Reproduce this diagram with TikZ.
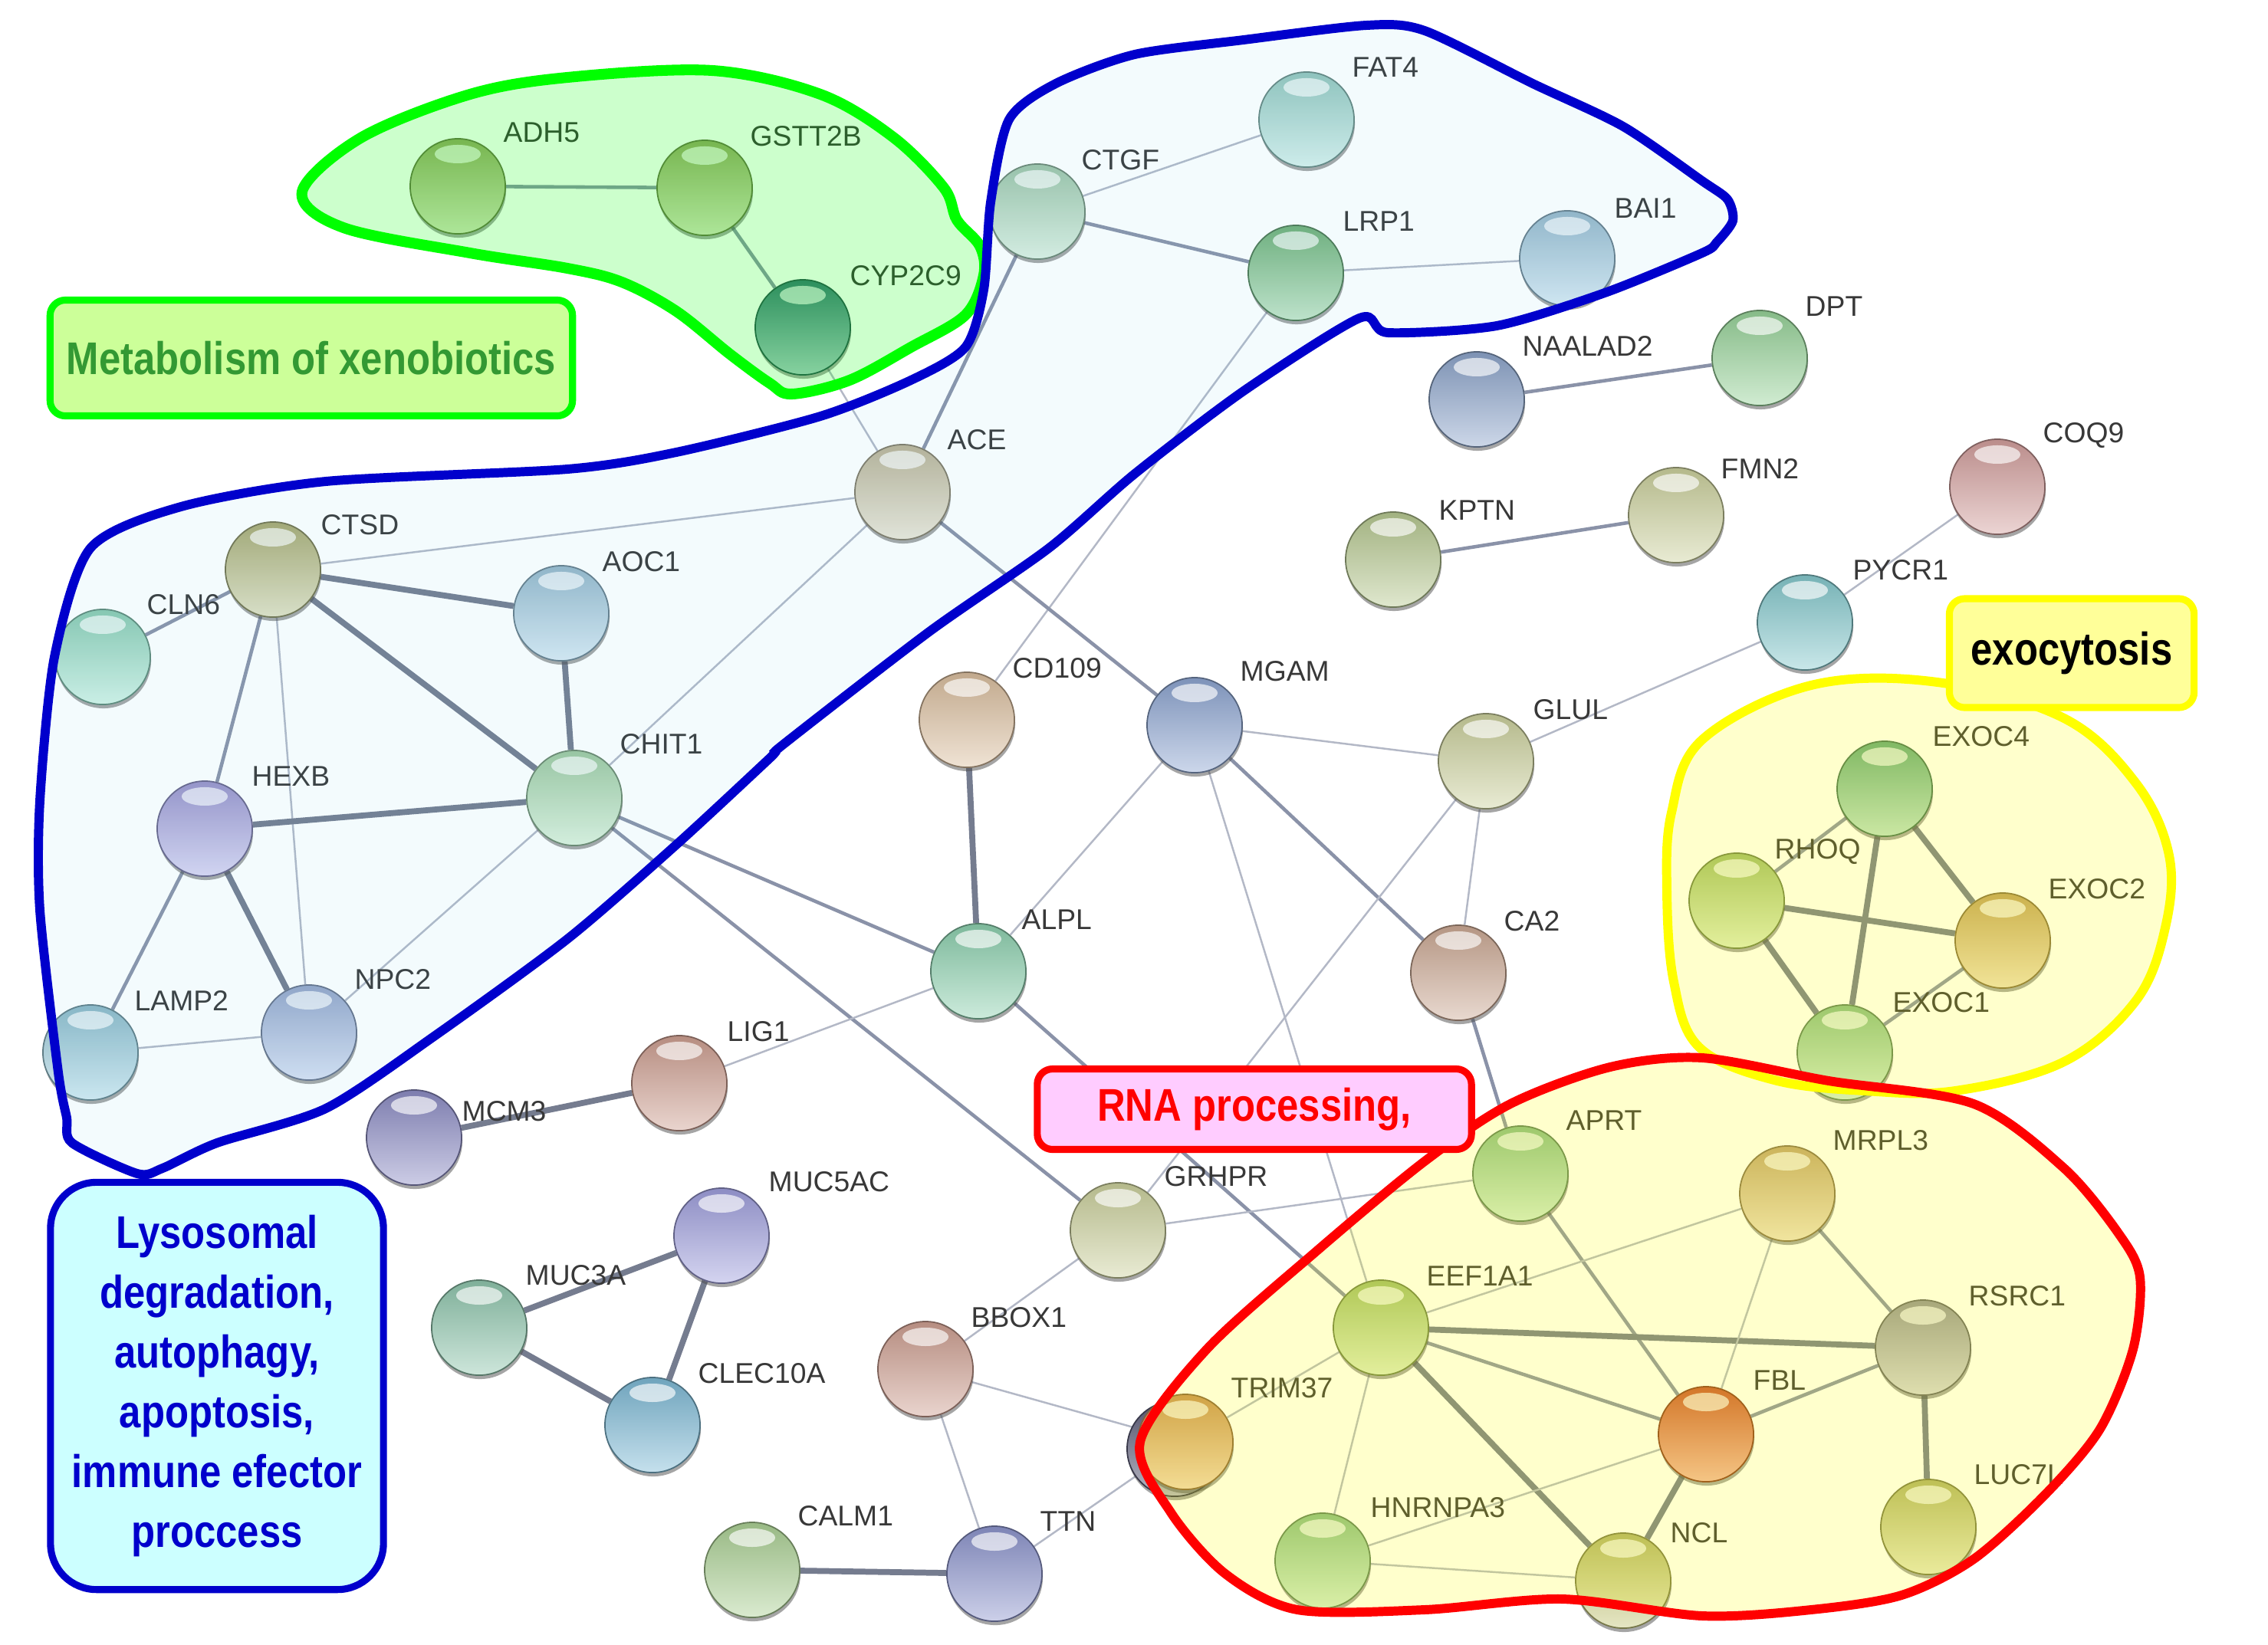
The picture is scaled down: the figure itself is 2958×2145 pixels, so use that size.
\documentclass[tikz,border=0pt]{standalone}
\usepackage{fontspec}
\setmainfont{Liberation Sans}
\newfontfamily\tagfont[FakeStretch=0.85]{Liberation Sans}
\usetikzlibrary{shadows, calc}
\definecolor{edgeline}{HTML}{8A92A8}
\definecolor{labelgray}{HTML}{383838}
\definecolor{cOlive}{HTML}{AABA72}
\definecolor{cTeal}{HTML}{3F8384}
\definecolor{cPale}{HTML}{B2DCBC}
\definecolor{cAqua}{HTML}{A6DDD3}
\definecolor{cGreen}{HTML}{7FC586}
\definecolor{cSky}{HTML}{A9CDE2}
\definecolor{cSteel}{HTML}{8EA6CC}
\definecolor{cLeaf}{HTML}{98D49A}
\definecolor{cSage}{HTML}{B8CA92}
\definecolor{cCream}{HTML}{CDD29E}
\definecolor{cRose}{HTML}{D4A09E}
\definecolor{cCyan}{HTML}{86CACE}
\definecolor{cBeige}{HTML}{D3C8A8}
\definecolor{cKhaki}{HTML}{BEBD7E}
\definecolor{cMint}{HTML}{9CE2C6}
\definecolor{cLav}{HTML}{AEA4E2}
\definecolor{cLight}{HTML}{B2E0B2}
\definecolor{cIce}{HTML}{9ECEDE}
\definecolor{cPeri}{HTML}{A8BAE2}
\definecolor{cTan}{HTML}{DCC0A0}
\definecolor{cCorn}{HTML}{8EA6D2}
\definecolor{cSea}{HTML}{8ED2B0}
\definecolor{cClay}{HTML}{CDAA95}
\definecolor{cBrick}{HTML}{CFA092}
\definecolor{cSlate}{HTML}{8E8EC6}
\definecolor{cViolet}{HTML}{A0A0DE}
\definecolor{cJade}{HTML}{90C7AE}
\definecolor{cCeru}{HTML}{7EBAD6}
\definecolor{cFern}{HTML}{ADD296}
\definecolor{cIndigo}{HTML}{8E96CE}
\definecolor{cEmerald}{HTML}{6FBE8E}
\definecolor{cLime}{HTML}{B2D47C}
\definecolor{cGold}{HTML}{D9B46E}
\definecolor{cSand}{HTML}{D9B882}
\definecolor{cSilver}{HTML}{A6A6AE}
\definecolor{cApricot}{HTML}{E0A064}
\definecolor{cOrange}{HTML}{E4603A}
\definecolor{cMustard}{HTML}{C6C87A}
\definecolor{cDusk}{HTML}{5E5E7A}
\definecolor{xenoline}{HTML}{00FF00}
\definecolor{xenofill}{HTML}{CCFF99}
\definecolor{xenotext}{HTML}{339933}
\definecolor{lysoline}{HTML}{0000CC}
\definecolor{lysofill}{HTML}{CCFFFF}
\definecolor{lysohull}{HTML}{66CCEE}
\definecolor{exoline}{HTML}{FFFF00}
\definecolor{exofill}{HTML}{FFFF99}
\definecolor{rnaline}{HTML}{FF0000}
\definecolor{rnafill}{HTML}{FFCCFF}
\pgfdeclarelayer{edgelayer}
\pgfdeclarelayer{hulllayer}
\pgfsetlayers{edgelayer,main,hulllayer}
\tikzset{
  gene/.style={
    circle, minimum size=1.24cm, inner sep=0pt,
    draw=#1!60!black, line width=0.5pt,
    top color=#1!88!black, bottom color=#1!45!white,
    drop shadow={shadow xshift=0.01cm, shadow yshift=-0.05cm, opacity=0.5, fill=black!70},
    path picture={\fill[white, opacity=0.65] ([yshift=-0.2cm]path picture bounding box.north) ellipse (0.3cm and 0.12cm);}},
  genetext/.style={
    anchor=west, inner sep=0pt, text=labelgray,
    font=\fontsize{10.6}{12}\selectfont, text height=7.6pt, text depth=0pt},
  thinedge/.style={line width=0.7pt, draw=edgeline!65},
  midedge/.style={line width=1.3pt, draw=edgeline},
  thickedge/.style={line width=2.2pt, draw=edgeline!85!black},
  tagbox/.style={
    rounded corners=0.2cm, line width=2.6pt, inner sep=0pt, align=center,
    font=\tagfont\bfseries\fontsize{17}{22.2}\selectfont}
  }

\begin{document}
\begin{tikzpicture}[x=0.01cm, y=-0.01cm]
  \useasboundingbox (0,0) rectangle (2958,2145);
  \begin{pgfonlayer}{edgelayer}
    \fill[white] (0,0) rectangle (2958,2145);
  \end{pgfonlayer}

  % proteins
  \node[gene=cOlive] (adh5) at (597,243) {};
  \node[gene=cOlive] (gstt2b) at (919,245) {};
  \node[gene=cTeal] (cyp2c9) at (1047,427) {};
  \node[gene=cPale] (ctgf) at (1353,276) {};
  \node[gene=cAqua] (fat4) at (1704,156) {};
  \node[gene=cGreen] (lrp1) at (1690,356) {};
  \node[gene=cSky] (bai1) at (2044,337) {};
  \node[gene=cSteel] (naalad2) at (1926,521) {};
  \node[gene=cLeaf] (dpt) at (2295,467) {};
  \node[gene=cSage] (kptn) at (1817,730) {};
  \node[gene=cCream] (fmn2) at (2186,672) {};
  \node[gene=cRose] (coq9) at (2605,635) {};
  \node[gene=cCyan] (pycr1) at (2354,812) {};
  \node[gene=cBeige] (ace) at (1177,642) {};
  \node[gene=cKhaki] (ctsd) at (356,743) {};
  \node[gene=cMint] (cln6) at (134,857) {};
  \node[gene=cSky] (aoc1) at (732,800) {};
  \node[gene=cLav] (hexb) at (267,1081) {};
  \node[gene=cLight] (chit1) at (749,1041) {};
  \node[gene=cIce] (lamp2) at (118,1373) {};
  \node[gene=cPeri] (npc2) at (403,1347) {};
  \node[gene=cTan] (cd109) at (1261,939) {};
  \node[gene=cCorn] (mgam) at (1558,946) {};
  \node[gene=cCream] (glul) at (1938,993) {};
  \node[gene=cSea] (alpl) at (1276,1267) {};
  \node[gene=cClay] (ca2) at (1902,1269) {};
  \node[gene=cBrick] (lig1) at (886,1413) {};
  \node[gene=cSlate] (mcm3) at (540,1484) {};
  \node[gene=cEmerald] (exoc4) at (2458,1029) {};
  \node[gene=cLime] (rhoq) at (2265,1175) {};
  \node[gene=cGold] (exoc2) at (2612,1227) {};
  \node[gene=cLeaf] (exoc1) at (2406,1373) {};
  \node[gene=cViolet] (muc5ac) at (941,1612) {};
  \node[gene=cJade] (muc3a) at (625,1732) {};
  \node[gene=cCeru] (clec10a) at (851,1859) {};
  \node[gene=cBrick] (bbox1) at (1207,1786) {};
  \node[gene=cCream] (grhpr) at (1458,1605) {};
  \node[gene=cFern] (calm1) at (981,2048) {};
  \node[gene=cIndigo] (ttn) at (1297,2053) {};
  \node[gene=cLeaf] (aprt) at (1983,1531) {};
  \node[gene=cSand] (mrpl3) at (2331,1557) {};
  \node[gene=cLime] (eef1a1) at (1801,1732) {};
  \node[gene=cDusk] (behind) at (1532,1890) {};
  \node[gene=cApricot] (trim37) at (1546,1881) {};
  \node[gene=cSilver] (rsrc1) at (2508,1758) {};
  \node[gene=cOrange] (fbl) at (2225,1871) {};
  \node[gene=cLeaf] (hnrnpa3) at (1725,2036) {};
  \node[gene=cMustard] (ncl) at (2117,2062) {};
  \node[gene=cMustard] (luc7l) at (2515,1992) {};

  % protein names
  \node[genetext] (adh5-t) at (656,172) {ADH5};
  \node[genetext] (gstt2b-t) at (978,177) {GSTT2B};
  \node[genetext] (cyp2c9-t) at (1108,359) {CYP2C9};
  \node[genetext] (ctgf-t) at (1410,208) {CTGF};
  \node[genetext] (fat4-t) at (1763,87) {FAT4};
  \node[genetext] (lrp1-t) at (1751,288) {LRP1};
  \node[genetext] (bai1-t) at (2105,271) {BAI1};
  \node[genetext] (naalad2-t) at (1985,451) {NAALAD2};
  \node[genetext] (dpt-t) at (2354,399) {DPT};
  \node[genetext] (kptn-t) at (1876,665) {KPTN};
  \node[genetext] (fmn2-t) at (2244,611) {FMN2};
  \node[genetext] (coq9-t) at (2664,564) {COQ9};
  \node[genetext] (pycr1-t) at (2416,743) {PYCR1};
  \node[genetext] (ace-t) at (1235,573) {ACE};
  \node[genetext] (ctsd-t) at (418,684) {CTSD};
  \node[genetext] (cln6-t) at (191,788) {CLN6};
  \node[genetext] (aoc1-t) at (785,732) {AOC1};
  \node[genetext] (hexb-t) at (328,1012) {HEXB};
  \node[genetext] (chit1-t) at (808,970) {CHIT1};
  \node[genetext] (lamp2-t) at (175,1305) {LAMP2};
  \node[genetext] (npc2-t) at (462,1277) {NPC2};
  \node[genetext] (cd109-t) at (1320,871) {CD109};
  \node[genetext] (mgam-t) at (1617,875) {MGAM};
  \node[genetext] (glul-t) at (1999,925) {GLUL};
  \node[genetext] (alpl-t) at (1332,1199) {ALPL};
  \node[genetext] (ca2-t) at (1961,1201) {CA2};
  \node[genetext] (lig1-t) at (948,1345) {LIG1};
  \node[genetext] (mcm3-t) at (602,1449) {MCM3};
  \node[genetext] (exoc4-t) at (2520,960) {EXOC4};
  \node[genetext] (rhoq-t) at (2314,1107) {RHOQ};
  \node[genetext] (exoc2-t) at (2671,1159) {EXOC2};
  \node[genetext] (exoc1-t) at (2468,1307) {EXOC1};
  \node[genetext] (muc5ac-t) at (1002,1541) {MUC5AC};
  \node[genetext] (muc3a-t) at (685,1663) {MUC3A};
  \node[genetext] (clec10a-t) at (910,1791) {CLEC10A};
  \node[genetext] (bbox1-t) at (1266,1718) {BBOX1};
  \node[genetext] (grhpr-t) at (1518,1534) {GRHPR};
  \node[genetext] (calm1-t) at (1040,1977) {CALM1};
  \node[genetext] (ttn-t) at (1356,1984) {TTN};
  \node[genetext] (aprt-t) at (2042,1461) {APRT};
  \node[genetext] (mrpl3-t) at (2390,1487) {MRPL3};
  \node[genetext] (eef1a1-t) at (1860,1664) {EEF1A1};
  \node[genetext] (trim37-t) at (1605,1810) {TRIM37};
  \node[genetext] (rsrc1-t) at (2567,1690) {RSRC1};
  \node[genetext] (fbl-t) at (2286,1800) {FBL};
  \node[genetext] (hnrnpa3-t) at (1787,1966) {HNRNPA3};
  \node[genetext] (ncl-t) at (2178,1999) {NCL};
  \node[genetext] (luc7l-t) at (2574,1923) {LUC7L};

  % interactions
  \begin{pgfonlayer}{edgelayer}
    \draw[midedge] (adh5) -- (gstt2b);
    \draw[midedge] (gstt2b) -- (cyp2c9);
    \draw[thinedge] (cyp2c9) -- (ace);
    \draw[thinedge] (ctgf) -- (fat4);
    \draw[midedge] (ctgf) -- (lrp1);
    \draw[midedge] (ctgf) -- (ace);
    \draw[thinedge] (lrp1) -- (bai1);
    \draw[thinedge] (lrp1) -- (cd109);
    \draw[thinedge] (ace) -- (ctsd);
    \draw[thinedge] (ace) -- (chit1);
    \draw[midedge] (ace) -- (mgam);
    \draw[midedge] (ctsd) -- (cln6);
    \draw[thickedge] (ctsd) -- (aoc1);
    \draw[thickedge] (ctsd) -- (chit1);
    \draw[midedge] (ctsd) -- (hexb);
    \draw[thinedge] (ctsd) -- (npc2);
    \draw[thickedge] (aoc1) -- (chit1);
    \draw[thickedge] (hexb) -- (chit1);
    \draw[midedge] (hexb) -- (lamp2);
    \draw[thickedge] (hexb) -- (npc2);
    \draw[thinedge] (lamp2) -- (npc2);
    \draw[thinedge] (npc2) -- (chit1);
    \draw[midedge] (chit1) -- (alpl);
    \draw[midedge] (chit1) -- (grhpr);
    \draw[thickedge] (cd109) -- (alpl);
    \draw[thinedge] (alpl) -- (mgam);
    \draw[thinedge] (alpl) -- (lig1);
    \draw[midedge] (alpl) -- (eef1a1);
    \draw[thinedge] (mgam) -- (glul);
    \draw[midedge] (mgam) -- (ca2);
    \draw[thinedge] (mgam) -- (eef1a1);
    \draw[thinedge] (glul) -- (ca2);
    \draw[thinedge] (glul) -- (grhpr);
    \draw[thinedge] (glul) -- (pycr1);
    \draw[thinedge] (pycr1) -- (coq9);
    \draw[midedge] (ca2) -- (aprt);
    \draw[thinedge] (grhpr) -- (aprt);
    \draw[thinedge] (grhpr) -- (bbox1);
    \draw[thinedge] (bbox1) -- (trim37);
    \draw[thinedge] (bbox1) -- (ttn);
    \draw[thickedge] (ttn) -- (calm1);
    \draw[thinedge] (ttn) -- (trim37);
    \draw[thickedge] (mcm3) -- (lig1);
    \draw[thickedge] (muc3a) -- (muc5ac);
    \draw[thickedge] (muc3a) -- (clec10a);
    \draw[thickedge] (muc5ac) -- (clec10a);
    \draw[midedge] (naalad2) -- (dpt);
    \draw[midedge] (kptn) -- (fmn2);
    \draw[midedge] (exoc4) -- (rhoq);
    \draw[thickedge] (exoc4) -- (exoc2);
    \draw[thickedge] (exoc4) -- (exoc1);
    \draw[thickedge] (rhoq) -- (exoc2);
    \draw[thickedge] (rhoq) -- (exoc1);
    \draw[midedge] (exoc2) -- (exoc1);
    \draw[midedge] (aprt) -- (fbl);
    \draw[thickedge] (eef1a1) -- (rsrc1);
    \draw[midedge] (eef1a1) -- (fbl);
    \draw[thickedge] (eef1a1) -- (ncl);
    \draw[thinedge] (eef1a1) -- (hnrnpa3);
    \draw[thinedge] (eef1a1) -- (trim37);
    \draw[thinedge] (eef1a1) -- (mrpl3);
    \draw[thinedge] (hnrnpa3) -- (ncl);
    \draw[thinedge] (hnrnpa3) -- (fbl);
    \draw[thickedge] (ncl) -- (fbl);
    \draw[midedge] (fbl) -- (rsrc1);
    \draw[thinedge] (fbl) -- (mrpl3);
    \draw[midedge] (mrpl3) -- (rsrc1);
    \draw[thickedge] (rsrc1) -- (luc7l);
  \end{pgfonlayer}

  % clusters
  \begin{pgfonlayer}{hulllayer}
    \path[fill=xenoline, fill opacity=0.2, draw=xenoline, line width=4pt]
      plot[smooth cycle, tension=0.55] coordinates {(394,250) (472,179) (613,123)
      (740,101) (929,92) (1070,123) (1165,179) (1231,245) (1248,287) (1278,321)
      (1283,359) (1259,411) (1188,453) (1108,496) (1033,514) (1004,500) (952,462)
      (882,406) (811,368) (740,350) (613,330) (448,297)};
    \path[fill=lysohull, fill opacity=0.08, draw=lysoline, line width=3.4pt]
      plot[smooth cycle, tension=0.45] coordinates {(118,715) (236,661) (425,628)
      (740,612) (882,590) (1070,543) (1188,496) (1259,453) (1283,378) (1292,264)
      (1316,156) (1377,109) (1480,71) (1622,52) (1782,33) (1858,40) (1999,109)
      (2117,165) (2220,236) (2253,260) (2260,288) (2239,316) (2220,330) (2093,382)
      (1952,425) (1810,434) (1773,415) (1622,510) (1480,618) (1368,715) (1212,824)
      (1023,970) (1004,989) (882,1102) (740,1225) (566,1352) (425,1446) (283,1491)
      (212,1524) (179,1531) (94,1491) (87,1458) (76,1399) (52,1187) (52,1045)
      (71,857)};
    \path[fill=exoline, fill opacity=0.2, draw=exoline, line width=3.4pt]
      plot[smooth cycle, tension=0.6] coordinates {(2220,965) (2362,894) (2527,890)
      (2692,937) (2786,1022) (2829,1116) (2824,1210) (2786,1305) (2692,1385)
      (2550,1423) (2432,1423) (2314,1409) (2216,1366) (2183,1281) (2174,1163)
      (2180,1060)};
    \path[fill=exoline, fill opacity=0.2, draw=rnaline, line width=3.4pt]
      plot[smooth cycle, tension=0.5] coordinates {(1487,1881) (1574,1760)
      (1716,1633) (1858,1515) (1970,1440) (2100,1392) (2220,1380) (2385,1410)
      (2574,1440) (2692,1524) (2763,1609) (2791,1666) (2782,1760) (2739,1864)
      (2668,1949) (2574,2034) (2480,2081) (2362,2100) (2220,2108) (2037,2086)
      (1858,2100) (1692,2100) (1598,2053) (1527,1973)};

    % cluster names
    \node[tagbox, draw=xenoline, fill=xenofill, text=xenotext,
      minimum width=6.81cm, minimum height=1.51cm] (xeno) at (406,467)
      {Metabolism of xenobiotics};
    \node[tagbox, draw=exoline, fill=exofill, text=black,
      minimum width=3.19cm, minimum height=1.42cm] (exo) at (2702,852)
      {exocytosis};
    \node[tagbox, rounded corners=0.6cm, draw=lysoline, fill=lysofill, text=lysoline,
      minimum width=4.34cm, minimum height=5.31cm] (lyso) at (283,1808)
      {Lysosomal\\degradation,\\autophagy,\\apoptosis,\\immune efector\\proccess};
    \node[tagbox, draw=rnaline, fill=rnafill, text=rnaline,
      minimum width=5.66cm, minimum height=1.05cm] (rna) at (1636,1447)
      {RNA processing,};
  \end{pgfonlayer}
\end{tikzpicture}
\end{document}
